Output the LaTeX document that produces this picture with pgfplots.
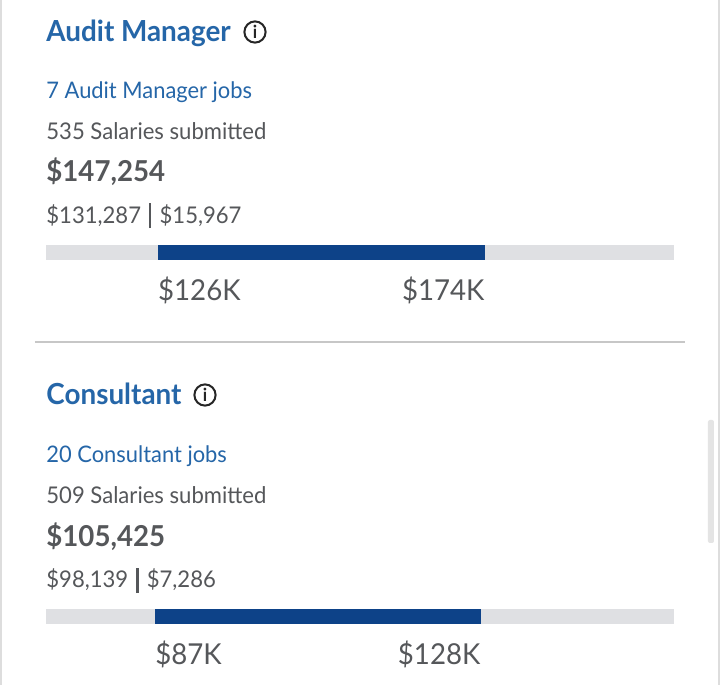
\documentclass[border=0pt]{standalone}
\usepackage{fontspec}
\setmainfont[FakeStretch=0.96]{Lato}
\usepackage{pgfplots}
\pgfplotsset{compat=1.18}

\definecolor{linkblue}{HTML}{2566A8}
\definecolor{bodygrey}{HTML}{55575A}
\definecolor{barblue}{HTML}{0D4288}
\definecolor{bargrey}{HTML}{DFE0E3}
\definecolor{edgegrey}{HTML}{DDDDDD}
\definecolor{scrollgrey}{HTML}{E4E4E4}

% 1 px of the reference = 0.5pt here
\newcommand{\fs}[1]{\fontsize{#1}{#1}\selectfont}
\newcommand{\sep}{\hspace{4.1pt}\rule[-2.6pt]{1.1pt}{12.4pt}\hspace{4.1pt}}
\pgfplotsset{
  salarybar/.style={
    scale only axis, width=314pt, height=7.25pt,
    ymin=0, ymax=1, ytick=\empty,
    axis line style={draw=none},
    axis background/.style={fill=bargrey},
    tick style={draw=none},
    xticklabel style={anchor=north west, font=\fs{14.4}, text=bodygrey, inner xsep=0pt, inner ysep=0pt, yshift=-8.3pt},
    extra x tick style={xticklabel style={anchor=north east}},
  },
}

\begin{document}
\begin{tikzpicture}[x=1pt,y=1pt]
% page: text, rules, scrollbar, in reference pixels
\begin{axis}[
  name=page, at={(0,0)}, anchor=south west,
  scale only axis, width=360pt, height=342.5pt,
  xmin=0, xmax=720, ymin=0, ymax=685, y dir=reverse,
  hide axis, clip=false,
]
\fill[white] (axis cs:0,0) rectangle (axis cs:720,685);
\fill[edgegrey] (axis cs:0,0) rectangle (axis cs:2,685);
\fill[edgegrey] (axis cs:718,0) rectangle (axis cs:720,685);
\fill[scrollgrey, rounded corners=1pt] (axis cs:708,420) rectangle (axis cs:714,543);
\draw[color=black!22, line width=0.6pt] (axis cs:35,342) -- (axis cs:685,342);

\node[anchor=base west, inner sep=0pt, font=\fs{14.5}\bfseries, text=linkblue] at (axis cs:46,41) {Audit Manager};
\node[anchor=base west, inner sep=0pt, font=\fs{11.4}, text=linkblue] at (axis cs:46,98) {7 Audit Manager jobs};
\node[anchor=base west, inner sep=0pt, font=\fs{11.5}, text=bodygrey] at (axis cs:46,139.5) {535 Salaries submitted};
\node[anchor=base west, inner sep=0pt, font=\fs{14.4}\bfseries, text=bodygrey] at (axis cs:46,182) {\$147,254};
\node[anchor=base west, inner sep=0pt, font=\fs{11.5}, text=bodygrey] at (axis cs:46,223) {\$131,287\sep\$15,967};

\draw[black!85, line width=1pt] (axis cs:255,32) circle (5.3pt);
\node[inner sep=0pt, font=\fs{9}\bfseries, text=black!85] at (axis cs:255,32) {i};

\node[anchor=base west, inner sep=0pt, font=\fs{14.5}\bfseries, text=linkblue] at (axis cs:46,405) {Consultant};
\node[anchor=base west, inner sep=0pt, font=\fs{11.4}, text=linkblue] at (axis cs:46,462.5) {20 Consultant jobs};
\node[anchor=base west, inner sep=0pt, font=\fs{11.5}, text=bodygrey] at (axis cs:46,503) {509 Salaries submitted};
\node[anchor=base west, inner sep=0pt, font=\fs{14.4}\bfseries, text=bodygrey] at (axis cs:46,546) {\$105,425};
\node[anchor=base west, inner sep=0pt, font=\fs{11.5}, text=bodygrey] at (axis cs:46,588) {\$98,139\sep\$7,286};

\draw[black!85, line width=1pt] (axis cs:205,395) circle (5.3pt);
\node[inner sep=0pt, font=\fs{9}\bfseries, text=black!85] at (axis cs:205,395) {i};
\end{axis}

% Audit Manager range, in $K
\begin{axis}[
  salarybar, at={(23pt,212.5pt)}, anchor=south west,
  xmin=109.6, xmax=201.75,
  xtick={126}, xticklabels={\$126K},
  extra x ticks={174}, extra x tick labels={\$174K},
]
\addplot[draw=none, fill=barblue] coordinates {(126,0) (174,0) (174,1) (126,1)} -- cycle;
\end{axis}

% Consultant range, in $K
\begin{axis}[
  salarybar, at={(23pt,30.5pt)}, anchor=south west,
  xmin=73.3, xmax=152.3,
  xtick={87}, xticklabels={\$87K},
  extra x ticks={128}, extra x tick labels={\$128K},
]
\addplot[draw=none, fill=barblue] coordinates {(87,0) (128,0) (128,1) (87,1)} -- cycle;
\end{axis}
\end{tikzpicture}
\end{document}
